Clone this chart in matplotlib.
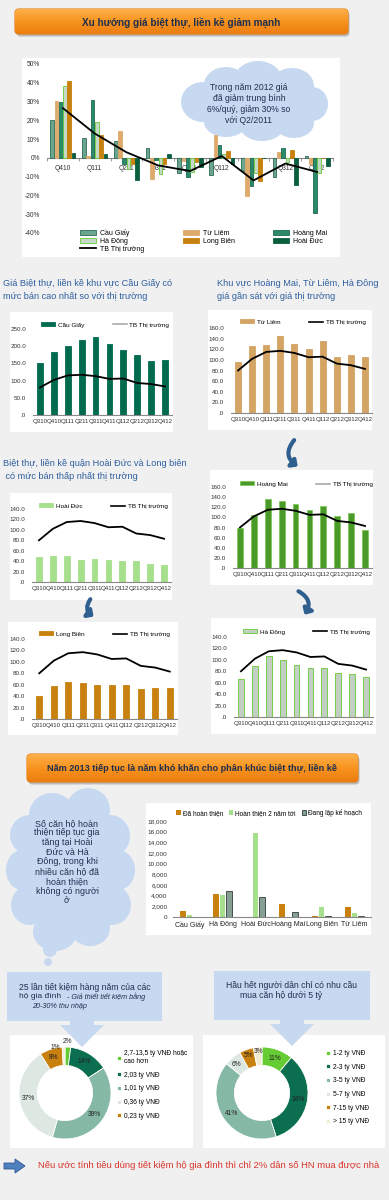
import numpy as np
import matplotlib
matplotlib.use('Agg')
import matplotlib.pyplot as plt
from matplotlib.patches import FancyBboxPatch, Ellipse, Rectangle, Polygon, FancyArrowPatch, Patch
from matplotlib.lines import Line2D
from matplotlib.colors import LinearSegmentedColormap

plt.rcParams['font.family'] = ['Liberation Sans', 'DejaVu Sans']

# ---- du lieu ----
growth_q = ['Q410', 'Q111', 'Q211', 'Q311', 'Q411', 'Q112', 'Q212', 'Q312', 'Q412']
g_cau_giay = [20, 10.5, 9, 5, -8, -9, -7, -10, 1.2]
g_tu_liem = [30.5, 1.2, 14.5, -11, -1.5, 12, -20.5, 3, -3]
g_hoang_mai = [29.5, 31, -3, -1, -10, 7, -15, 5, -29.5]
g_ha_dong = [38.5, 19, -6, -8.5, -7.5, 2, -8, -2, -8]
g_long_bien = [41, 12, -3, -3.5, -2, 3.5, -12.5, 4, 0]
g_hoai_duc = [2.5, 2, -12, 2, -5, -3, 0, -14.5, -4.5]
g_tb = [26.5, 13, 3, -4, -7, 1, -12, -3, -7.5]

quarters = ['Q310', 'Q410', 'Q111', 'Q211', 'Q311', 'Q411', 'Q112', 'Q212', 'Q312', 'Q412']
tb_market = [80, 102, 115, 117, 113, 105, 106, 93, 90, 83]
cau_giay = [151, 182, 200, 218, 227, 207, 190, 175, 158, 160]
tu_liem = [96, 127, 128, 145, 129, 121, 135, 106, 109, 106]
hoai_duc = [47, 49, 50, 43, 45, 43, 40, 40, 34, 32]
hoang_mai = [80, 105, 137, 133, 127, 114, 122, 103, 108, 76]
long_bien = [41, 58, 65, 63, 60, 59, 60, 53, 55, 55]
ha_dong = [66, 90, 106, 100, 91, 85, 85, 77, 75, 70]

districts = ['Cầu Giấy', 'Hà Đông', 'Hoài Đức', 'Hoàng Mai', 'Long Biên', 'Từ Liêm']
da_hoan_thien = [1190, 4310, 0, 2500, 250, 1810]
hoan_thien_2nam = [375, 4190, 15690, 0, 1940, 750]
dang_lap_kh = [0, 4875, 3810, 940, 190, 190]

income_labels = ['2,7-13,5 tỷ VNĐ hoặc\ncao hơn', '2,03 tỷ VNĐ', '1,01 tỷ VNĐ', '0,36 tỷ VNĐ', '0,23 tỷ VNĐ', '']
income_share = [2, 14, 39, 37, 8, 1]
demand_labels = ['1-2 tỷ VNĐ', '2-3 tỷ VNĐ', '3-5 tỷ VNĐ', '5-7 tỷ VNĐ', '7-15 tỷ VNĐ', '> 15 tỷ VNĐ']
demand_share = [11, 34, 41, 6, 5, 3]

W, H = 389, 1200
fig = plt.figure(figsize=(W / 100, H / 100), dpi=100)
fig.patch.set_facecolor('#f0f0f0')

bg = fig.add_axes([0, 0, 1, 1])
bg.axis('off')
bg.set_aspect('auto')
NAVY = '#1f2f4f'
BLUE_TXT = '#2e5e9e'
CLOUD = '#c6d9f1'


def pax(x0, y0, x1, y1):
    a = fig.add_axes([x0 / W, 1 - y1 / H, (x1 - x0) / W, (y1 - y0) / H])
    a.patch.set_alpha(0)
    return a


def panel(x0, y0, x1, y1):
    bg.add_patch(Rectangle((x0, y0), x1 - x0, y1 - y0, fc='white', ec='none'))


orange_cm = LinearSegmentedColormap.from_list('o', ['#ffb04a', '#f7931e', '#ec7d10'])


def banner(x0, y0, x1, y1, text, fs):
    bg.add_patch(FancyBboxPatch((x0 + 1.5, y0 + 2.5), x1 - x0, y1 - y0,
                                boxstyle='round,pad=0,rounding_size=4', fc='#7a7a7a', ec='none', alpha=0.45))
    box = FancyBboxPatch((x0, y0), x1 - x0, y1 - y0, boxstyle='round,pad=0,rounding_size=4',
                         fc='#f7931e', ec='#e07a10', lw=0.8)
    bg.add_patch(box)
    grad = np.linspace(0, 1, 60).reshape(-1, 1)
    im = bg.imshow(grad, extent=[x0, x1, y1, y0], cmap=orange_cm, aspect='auto', zorder=1.5)
    im.set_clip_path(box)
    bg.text((x0 + x1) / 2, (y0 + y1) / 2 + 0.5, text, ha='center', va='center',
            fontsize=fs, color=NAVY, fontweight='bold', zorder=3)


def cloud(blobs, color=CLOUD):
    for (cx, cy, w, h) in blobs:
        bg.add_patch(Ellipse((cx, cy), w, h, fc=color, ec='none'))


# ---- khung tieu de 1 ----
banner(15, 9, 348, 34, 'Xu hướng giá biệt thự, liền kề giảm mạnh', 7.2)

# ---- bieu do tang truong ----
panel(22, 58, 340, 257)
cloud([(252, 105, 120, 48), (203, 102, 44, 40), (226, 85, 44, 36), (258, 80, 48, 38),
       (292, 86, 44, 36), (312, 104, 32, 34), (294, 123, 40, 30), (262, 126, 44, 30),
       (226, 122, 44, 30)])
bg.text(249, 104, 'Trong năm 2012 giá\nđã giảm trung bình\n6%/quý, giảm 30% so\nvới Q2/2011',
        ha='center', va='center', fontsize=6.2, color=NAVY, linespacing=1.25, zorder=3)

ax1 = pax(47, 64, 333, 233)
x = np.arange(len(growth_q))
series = [('Cầu Giấy', g_cau_giay, '#6aa58e', '#2f6b55'),
          ('Từ Liêm', g_tu_liem, '#deaa6c', '#deaa6c'),
          ('Hoàng Mai', g_hoang_mai, '#2a8a6a', '#1d6a50'),
          ('Hà Đông', g_ha_dong, '#c8d8c8', '#66cc33'),
          ('Long Biên', g_long_bien, '#c8800f', '#c8800f'),
          ('Hoài Đức', g_hoai_duc, '#0b5e3e', '#0b5e3e')]
hd = {}
for i, (nm, vals, fc, ec) in enumerate(series):
    hd[nm] = ax1.bar(x + (i - 2.5) * 0.135, vals, 0.115, color=fc, edgecolor=ec, lw=0.6, label=nm, zorder=3)
ln, = ax1.plot(x, g_tb, color='black', lw=1.3, zorder=4, label='TB Thị trường')
ax1.set_xlim(-0.5, 8.5)
ax1.set_ylim(-40, 50)
ax1.set_yticks(range(-40, 51, 10))
ax1.set_yticklabels([f'{v}%' for v in range(-40, 51, 10)])
ax1.set_xticks(x)
ax1.set_xticklabels(growth_q)
ax1.set_xticks(np.arange(-0.5, 9, 1), minor=True)
ax1.tick_params(axis='y', length=0, labelsize=4.8, pad=5, colors='#333333')
ax1.tick_params(axis='x', which='major', length=0, labelsize=4.8, pad=5, colors='#333333')
ax1.tick_params(axis='x', which='minor', length=2, color='#888888')
for s in ['left', 'top', 'right']:
    ax1.spines[s].set_visible(False)
ax1.spines['bottom'].set_position(('data', 0))
ax1.spines['bottom'].set_color('#888888')
order = ['Cầu Giấy', 'Hà Đông', None, 'Từ Liêm', 'Long Biên', 'Hoàng Mai', 'Hoài Đức']
hs = [ln if k is None else hd[k] for k in order]
ls = ['TB Thị trường' if k is None else k for k in order]
fig.legend(hs, ls, ncol=3, loc='upper left', bbox_to_anchor=(80 / W, 1 - 229 / H),
           frameon=False, fontsize=5, handlelength=2.3, handleheight=0.7, labelspacing=0.12,
           columnspacing=5.5, handletextpad=0.6, borderpad=0, borderaxespad=0)

# ---- cac bieu do nho ----
bg.text(3, 290, 'Giá Biệt thự, liền kề khu vực Cầu Giấy có\nmức bán cao nhất so với thị trường',
        ha='left', va='center', fontsize=6.6, color=BLUE_TXT, linespacing=1.5)
bg.text(217, 290, 'Khu vực Hoàng Mai, Từ Liêm, Hà Đông\ngiá gần sát với giá thị trường',
        ha='left', va='center', fontsize=6.6, color=BLUE_TXT, linespacing=1.5)
bg.text(3, 470, 'Biệt thự, liền kề quận Hoài Đức và Long biên\n có mức bán thấp nhất thị trường',
        ha='left', va='center', fontsize=6.6, color=BLUE_TXT, linespacing=1.5)


def small_chart(panel_box, box, vals, fc, ec, name, ymax, step, leg_xy, leg_line='black'):
    panel(*panel_box)
    ax = pax(*box)
    xs = np.arange(len(quarters))
    ax.bar(xs, vals, 0.42, color=fc, edgecolor=ec, lw=0.6, zorder=2)
    ax.plot(xs, tb_market, color='black', lw=1.3, zorder=3)
    ax.set_xlim(-0.5, 9.5)
    ax.set_ylim(0, ymax)
    yt = np.arange(0, ymax + 1, step)
    ax.set_yticks(yt)
    ax.set_yticklabels(['.0' if v == 0 else f'{v:.1f}' for v in yt])
    ax.set_xticks(xs)
    ax.set_xticklabels(quarters)
    ax.tick_params(axis='y', length=0, labelsize=4.5, pad=5, colors='#333333')
    ax.tick_params(axis='x', length=0, labelsize=4.4, pad=3, colors='#333333')
    for s in ['left', 'top', 'right']:
        ax.spines[s].set_visible(False)
    ax.spines['bottom'].set_color('#888888')
    hh = [Patch(fc=fc, ec=ec, lw=0.6), Line2D([], [], color=leg_line, lw=1.2)]
    fig.legend(hh, [name, 'TB Thị trường'], ncol=2, loc='center left',
               bbox_to_anchor=(leg_xy[0] / W, 1 - leg_xy[1] / H), frameon=False,
               fontsize=4.6, handlelength=2.2, handleheight=0.6, columnspacing=4.5,
               handletextpad=0.4, borderpad=0, borderaxespad=0)
    return ax


small_chart((10, 312, 173, 432), (33, 329, 172, 415), cau_giay, '#006b4f', '#006b4f',
            'Cầu Giấy', 250, 50, (41, 325), '#aaaaaa')
small_chart((208, 310, 372, 430), (231, 328, 372, 413), tu_liem, '#d4a464', '#d4a464',
            'Từ Liêm', 160, 20, (240, 322))
small_chart((10, 493, 172, 600), (32, 509, 171, 582), hoai_duc, '#a6e08c', '#a6e08c',
            'Hoài Đức', 140, 20, (39, 506))
small_chart((210, 470, 373, 585), (233, 487, 372, 568), hoang_mai, '#4a9a2a', '#7fc85a',
            'Hoàng Mai', 160, 20, (240, 484), '#aaaaaa')
small_chart((8, 622, 178, 735), (32, 639, 177, 719), long_bien, '#c8800f', '#c8800f',
            'Long Biên', 140, 20, (39, 634))
small_chart((211, 618, 376, 734), (234, 637, 373, 717), ha_dong, '#c3cfc3', '#66cc33',
            'Hà Đông', 140, 20, (243, 632))

# mui ten cong
for a, b, r in [((296, 438), (300, 468), 0.6), ((296, 590), (303, 617), -0.6), ((92, 597), (96, 618), 0.6)]:
    bg.add_patch(FancyArrowPatch(a, b, connectionstyle=f'arc3,rad={r}',
                                 arrowstyle='-|>,head_width=3,head_length=3', lw=3,
                                 color='#2f5f8f', zorder=4))

# ---- khung tieu de 2 ----
banner(27, 754, 358, 782, 'Năm 2013 tiếp tục là năm khó khăn cho phân khúc biệt thự, liền kề', 6.6)

cloud([(70, 868, 96, 125), (52, 815, 46, 44), (88, 810, 44, 44), (110, 836, 40, 42),
       (118, 870, 34, 40), (112, 905, 38, 40), (90, 928, 40, 36), (55, 932, 44, 38),
       (30, 905, 38, 40), (22, 870, 32, 40), (30, 835, 40, 40), (50, 950, 14, 14), (48, 962, 8, 8)])
bg.text(67, 862, 'Số căn hộ hoàn\nthiện tiếp tục gia\ntăng tại Hoài\nĐức và Hà\nĐông, trong khi\n'
        'nhiều căn hộ đã\nhoàn thiện\nkhông có người\nở', ha='center', va='center',
        fontsize=6.4, color=NAVY, linespacing=1.1, zorder=3)

panel(146, 803, 371, 935)
ax8 = pax(173, 821, 371, 917)
xd = np.arange(len(districts))
b1 = ax8.bar(xd - 0.21, da_hoan_thien, 0.18, color='#c8800f', zorder=2)
b2 = ax8.bar(xd, hoan_thien_2nam, 0.18, color='#a6e08c', zorder=2)
b3 = ax8.bar(xd + 0.21, dang_lap_kh, 0.18, color='#859f94', edgecolor='#2f3f38', lw=0.6, zorder=2)
ax8.set_xlim(-0.5, 5.5)
ax8.set_ylim(0, 18000)
ax8.set_yticks(range(0, 18001, 2000))
ax8.set_yticklabels([f'{v:,}' for v in range(0, 18001, 2000)])
ax8.set_xticks(xd)
ax8.set_xticklabels(districts)
ax8.tick_params(axis='y', length=0, labelsize=4.6, pad=4, colors='#333333')
ax8.tick_params(axis='x', length=0, labelsize=5.0, pad=3, colors='#222222')
for s in ['left', 'top', 'right']:
    ax8.spines[s].set_visible(False)
ax8.spines['bottom'].set_color('#888888')
fig.legend([b1, b2, b3], ['Đã hoàn thiện', 'Hoàn thiện 2 năm tới', 'Đang lập kế hoạch'],
           ncol=3, loc='center left', bbox_to_anchor=(176 / W, 1 - 813 / H), frameon=False,
           fontsize=4.7, handlelength=0.7, handleheight=0.7, handletextpad=0.3,
           columnspacing=0.9, borderpad=0, borderaxespad=0)

# ---- hop xanh + mui ten ----
for (x0, y0, x1, y1, cx) in [(7, 972, 162, 1021, 82), (214, 971, 370, 1020, 292)]:
    bg.add_patch(Rectangle((x0, y0), x1 - x0, y1 - y0, fc=CLOUD, ec='none'))
    bg.add_patch(Polygon([(cx - 12, y1), (cx + 12, y1), (cx + 12, y1 + 4), (cx + 22, y1 + 4),
                          (cx, y1 + 26), (cx - 22, y1 + 4), (cx - 12, y1 + 4)],
                         closed=True, fc=CLOUD, ec='none', zorder=3))
bg.text(85, 987, '25 lần tiết kiệm hàng năm của các', ha='center', va='center', fontsize=6.2, color=NAVY)
bg.text(19, 997, 'hộ gia đình', ha='left', va='center', fontsize=6.0, color=NAVY)
bg.text(67, 997, '- Giả thiết tiết kiệm bằng', ha='left', va='center', fontsize=5.2,
        color=NAVY, style='italic')
bg.text(32, 1007, '20-30% thu nhập', ha='left', va='center', fontsize=5.2, color=NAVY, style='italic')
bg.text(292, 986, 'Hầu hết người dân chỉ có nhu cầu', ha='center', va='center', fontsize=6.2, color=NAVY)
bg.text(240, 996, 'mua căn hộ dưới 5 tỷ', ha='left', va='center', fontsize=6.2, color=NAVY)

# ---- bieu do tron ----
panel(10, 1035, 193, 1148)
panel(203, 1035, 385, 1148)


def donut(cx, cy, shares, colors, labels, leg_xy, small_pos):
    ax = pax(cx - 46, cy - 46, cx + 46, cy + 46)
    wedges, _ = ax.pie(shares, colors=colors, startangle=90, counterclock=False, radius=1,
                       wedgeprops=dict(width=0.4, edgecolor='white', linewidth=0.6))
    for k, (w, v) in enumerate(zip(wedges, shares)):
        ang = np.deg2rad((w.theta1 + w.theta2) / 2)
        px, py = 0.8 * np.cos(ang), 0.8 * np.sin(ang)
        if k in small_pos:
            px, py = small_pos[k]
        ax.text(px, py, f'{v}%', ha='center', va='center', fontsize=4.8, color='#222222')
    ax.set_xlim(-1, 1)
    ax.set_ylim(-1, 1)
    ax.set_aspect('equal')
    hh = [w for w, l in zip(wedges, labels) if l]
    ll = [l for l in labels if l]
    fig.legend(hh, ll, loc='upper left', bbox_to_anchor=(leg_xy[0] / W, 1 - leg_xy[1] / H),
               frameon=False, fontsize=4.8, handlelength=0.6, handleheight=0.6,
               handletextpad=0.4, labelspacing=1.0, borderpad=0, borderaxespad=0)


donut(65, 1093, income_share, ['#66cc33', '#0b6e4f', '#86b8a6', '#dde8e2', '#c8800f', '#f3ead2'],
      income_labels, (117, 1050), {0: (0.05, 1.12), 5: (-0.22, 0.98)})
donut(262, 1093, demand_share, ['#66cc33', '#0b6e4f', '#86b8a6', '#dde8e2', '#c8800f', '#f3ead2'],
      demand_labels, (326, 1050), {3: (-0.55, 0.62), 4: (-0.3, 0.82), 5: (-0.08, 0.9)})

# ---- dong cuoi ----
bg.add_patch(Polygon([(4, 1163), (15, 1163), (15, 1159), (25, 1166), (15, 1173), (15, 1169), (4, 1169)],
                     closed=True, fc='#4f81bd', ec='#2f5597', lw=0.6))
bg.text(38, 1166, 'Nếu ước tính tiêu dùng tiết kiệm hộ gia đình thì chỉ 2% dân số HN mua được nhà',
        ha='left', va='center', fontsize=6.8, color='#d9342b')

bg.set_xlim(0, W)
bg.set_ylim(H, 0)

fig.savefig('out.png', dpi=100, facecolor=fig.get_facecolor())
